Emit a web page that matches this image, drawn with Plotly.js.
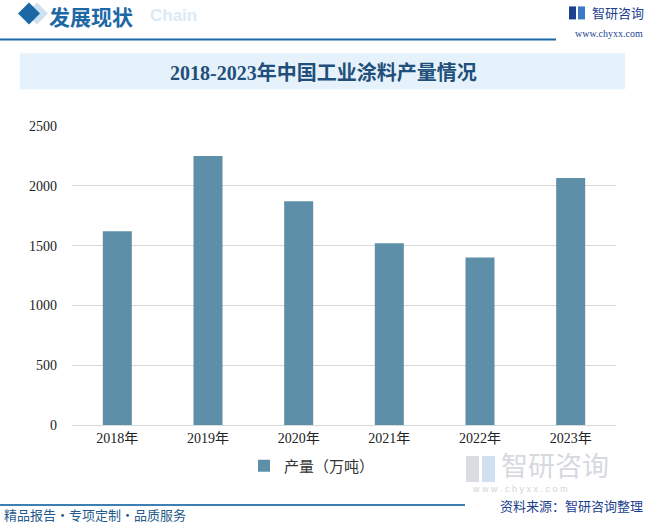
<!DOCTYPE html>
<html><head><meta charset="utf-8">
<script src="https://cdn.plot.ly/plotly-3.0.1.min.js"></script>
<style>html,body{margin:0;padding:0;background:#fff;}#chart{width:647px;height:524px;}</style>
</head><body><div id="chart"></div>
<script>
const years = ["2018年","2019年","2020年","2021年","2022年","2023年"];
const output = [1620, 2250, 1870, 1520, 1400, 2065];
const seriesName = "产量（万吨）";
const chartTitle = "2018-2023年中国工业涂料产量情况";

const L = 72, R = 616, T = 125.7, B = 425;
const px = x => (x - L) / (R - L);
const py = y => (B - y) / (B - T);
const CJK = "Noto Sans CJK SC, sans-serif";
const SERIF = "Liberation Serif, Noto Sans CJK SC, serif";

function diamond(cx, cy, r, color){
  return {type:"path", xref:"paper", yref:"paper",
    path:`M ${px(cx-r)} ${py(cy)} L ${px(cx)} ${py(cy-r)} L ${px(cx+r)} ${py(cy)} L ${px(cx)} ${py(cy+r)} Z`,
    fillcolor:color, line:{width:0}};
}
const shapes = [
  {type:"rect", xref:"paper", yref:"paper", x0:px(20), x1:px(625), y0:py(89), y1:py(53), fillcolor:"#e6f2fb", line:{width:0}, layer:"below"},
  {type:"line", xref:"paper", yref:"paper", x0:px(0), x1:px(556), y0:py(39), y1:py(39), line:{color:"#1c68a6", width:2}},
  {type:"line", xref:"paper", yref:"paper", x0:px(0), x1:px(465), y0:py(505), y1:py(505), line:{color:"#3d7fb3", width:2}},
  diamond(37, 13, 11, "#cfe1f0"),
  diamond(29, 13, 11, "#1c68a6"),
  {type:"rect", xref:"paper", yref:"paper", x0:px(569), x1:px(576), y0:py(19), y1:py(6), fillcolor:"#1e3f8f", line:{width:0}},
  {type:"rect", xref:"paper", yref:"paper", x0:px(578), x1:px(585), y0:py(19), y1:py(6), fillcolor:"#3a78c8", line:{width:0}},
  {type:"rect", xref:"paper", yref:"paper", x0:px(466), x1:px(479), y0:py(482), y1:py(456), fillcolor:"#d9dde3", line:{width:0}, layer:"below"},
  {type:"rect", xref:"paper", yref:"paper", x0:px(482), x1:px(495), y0:py(482), y1:py(456), fillcolor:"#cfe0f1", line:{width:0}, layer:"below"}
];

const annotations = [
  {text:"Chain", x:px(148), y:py(15), xref:"paper", yref:"paper", xanchor:"left", yanchor:"middle", showarrow:false, font:{family:"Liberation Sans, Arial", size:17, color:"#dbeaf6", weight:"bold"}},
  {text:"<b>发展现状</b>", x:px(47), y:py(16), xref:"paper", yref:"paper", xanchor:"left", yanchor:"middle", showarrow:false, font:{family:CJK, size:21, color:"#1c68a6"}},
  {text:"智研咨询", x:px(590), y:py(12), xref:"paper", yref:"paper", xanchor:"left", yanchor:"middle", showarrow:false, font:{family:CJK, size:13, color:"#1e3f8f"}},
  {text:"www.chyxx.com", x:px(645), y:py(33), xref:"paper", yref:"paper", xanchor:"right", yanchor:"middle", showarrow:false, font:{family:"Liberation Serif, serif", size:10, color:"#1e3f8f"}},
  {text:"<b>"+chartTitle+"</b>", x:px(323), y:py(72), xref:"paper", yref:"paper", xanchor:"center", yanchor:"middle", showarrow:false, font:{family:SERIF, size:20, color:"#1f4f7a"}},
  {text:"智研咨询", x:px(499), y:py(465), xref:"paper", yref:"paper", xanchor:"left", yanchor:"middle", showarrow:false, font:{family:CJK, size:27, color:"#d6d9de"}},
  {text:"w w w . c h y x x . c o m", x:px(470), y:py(489), xref:"paper", yref:"paper", xanchor:"left", yanchor:"middle", showarrow:false, font:{family:"Liberation Sans", size:9, color:"#d0d4d9"}},
  {text:"资料来源：智研咨询整理", x:px(645), y:py(506), xref:"paper", yref:"paper", xanchor:"right", yanchor:"middle", showarrow:false, font:{family:CJK, size:13, color:"#1e3f8f"}},
  {text:"精品报告・专项定制・品质服务", x:px(2), y:py(515), xref:"paper", yref:"paper", xanchor:"left", yanchor:"middle", showarrow:false, font:{family:CJK, size:13, color:"#1f5a8a"}}
];

const data = [{
  type:"bar", x:years, y:output, name:seriesName,
  marker:{color:"#5d90a8"}, width:0.32, showlegend:true
}];

const layout = {
  width:647, height:524,
  margin:{l:L, r:647-R, t:T, b:524-B, pad:0},
  paper_bgcolor:"#ffffff", plot_bgcolor:"#ffffff",
  showlegend:true,
  legend:{orientation:"h", x:0.5 - 32/544, xanchor:"center", y:py(466), yanchor:"middle", font:{family:CJK, size:15, color:"#333"}, itemwidth:30},
  xaxis:{type:"category", showline:true, linecolor:"#d9d9d9", linewidth:1, ticks:"", tickfont:{family:SERIF, size:14, color:"#222"}, showgrid:false, fixedrange:true},
  yaxis:{range:[0,2500], dtick:500, tick0:0, showgrid:true, gridcolor:"#d9d9d9", zeroline:false, ticks:"", ticklen:0, tickfont:{family:SERIF, size:14, color:"#222"}, ticksuffix:"    ", fixedrange:true},
  shapes:shapes, annotations:annotations
};
Plotly.newPlot("chart", data, layout, {displayModeBar:false, staticPlot:true});
</script></body></html>
